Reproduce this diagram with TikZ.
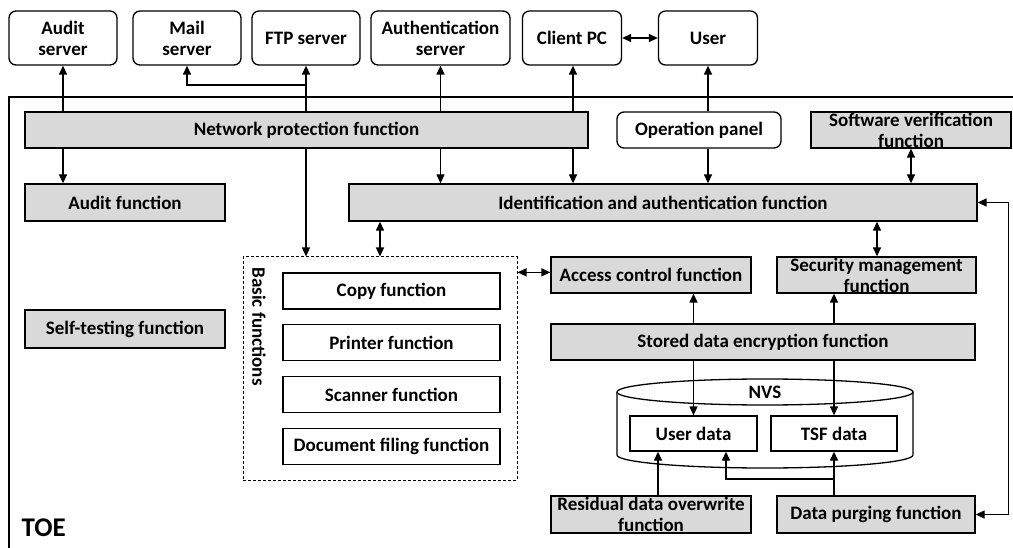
\documentclass[tikz,border=0pt]{standalone}
\usepackage{fontspec}
\setmainfont{Carlito}
\usetikzlibrary{arrows.meta}
\definecolor{fngray}{HTML}{D9D9D9}
\begin{document}
\begin{tikzpicture}[x=1pt, y=1pt, line width=1.3pt,
    >={Triangle[length=9pt, width=8pt]},
    every node/.style={font=\fontsize{19}{21}\selectfont\bfseries,
      align=center, inner sep=0pt},
    server/.style={draw, rounded corners=7pt, fill=white, minimum height=54pt},
    func/.style={draw, fill=fngray, minimum height=36pt},
    basicfn/.style={draw, fill=white, minimum width=217pt, minimum height=36pt}]
  \useasboundingbox (0, -548) rectangle (1013, 0);
  \draw (1013, -97) -- (9, -97) -- (9, -548);
  \node[anchor=west, font=\fontsize{27}{30}\selectfont\bfseries] (toe)
    at (21, -528) {TOE};

  \node[server, minimum width=108pt] (auditsrv) at (63, -38) {Audit\\server};
  \node[server, minimum width=108pt] (mailsrv) at (187, -38) {Mail\\server};
  \node[server, minimum width=108pt] (ftpsrv) at (306, -38) {FTP server};
  \node[server, minimum width=139pt] (authsrv) at (440.5, -38)
    {Authentication\\server};
  \node[server, minimum width=99pt] (clientpc) at (572, -38) {Client PC};
  \node[server, minimum width=99pt] (user) at (708, -38) {User};

  \node[func, minimum width=563pt] (netprot) at (306.5, -130)
    {Network protection function};
  \node[server, minimum width=164pt, minimum height=36pt] (oppanel)
    at (699, -130) {Operation panel};
  \node[func, minimum width=200pt] (swverify) at (911, -130)
    {Software verification\\function};
  \node[func, minimum width=200pt, minimum height=37pt] (auditfn)
    at (125, -202.5) {Audit function};
  \node[func, minimum width=628pt, minimum height=37pt] (ident)
    at (663, -202.5) {Identification and authentication function};
  \node[func, minimum width=200pt, minimum height=38pt] (selftest)
    at (125, -329) {Self-testing function};

  \node[draw, densely dashed, line width=1pt, minimum width=274pt,
    minimum height=223pt] (basic) at (380, -368.5) {};
  \node[rotate=-90, anchor=west] (basiclbl) at (259, -267) {Basic functions};
  \node[basicfn] (copyfn) at (391.5, -291) {Copy function};
  \node[basicfn] (printfn) at (391.5, -342.5) {Printer function};
  \node[basicfn] (scanfn) at (391.5, -394.5) {Scanner function};
  \node[basicfn] (docfn) at (391.5, -446.5) {Document filing function};

  \node[func, minimum width=200pt] (access) at (651, -275)
    {Access control function};
  \node[func, minimum width=199pt] (secmgmt) at (876.5, -275)
    {Security management\\function};
  \node[func, minimum width=424pt] (encrypt) at (763, -342)
    {Stored data encryption function};

  \draw[fill=white] (617, -392) -- (617, -455)
    arc[start angle=180, end angle=360, x radius=148, y radius=13]
    -- (913, -392);
  \draw (765, -392) ellipse [x radius=148, y radius=13];
  \node (nvs) at (765, -392) {NVS};
  \node[draw, fill=white, minimum width=127pt, minimum height=35pt] (userdata)
    at (693.5, -433.5) {User data};
  \node[draw, fill=white, minimum width=126pt, minimum height=35pt] (tsfdata)
    at (834, -433.5) {TSF data};

  \node[func, minimum width=200pt, minimum height=37pt] (residual)
    at (651, -514.5) {Residual data overwrite\\function};
  \node[func, minimum width=198pt, minimum height=37pt] (purge)
    at (876, -514.5) {Data purging function};

  \coordinate (mailjoin) at (306, -85);
  \coordinate (purgejoin) at (834, -479);

  \draw[->] (auditsrv.south |- netprot.north) -- (auditsrv.south);
  \draw[->] (auditsrv.south |- netprot.south) -- (auditsrv.south |- auditfn.north);
  \draw[->] (ftpsrv.south |- netprot.north) -- (ftpsrv.south);
  \draw[->] (mailjoin) -| (mailsrv.south);
  \draw[->] (ftpsrv.south |- netprot.south) -- (ftpsrv.south |- basic.north);
  \draw[->] (authsrv.south |- netprot.north) -- (authsrv.south);
  \draw[->] (authsrv.south |- netprot.south) -- (authsrv.south |- ident.north);
  \draw[->] ([xshift=1pt]clientpc.south |- netprot.north) -- ([xshift=1pt]clientpc.south);
  \draw[->] ([xshift=1pt]clientpc.south |- netprot.south)
    -- ([xshift=1pt]clientpc.south |- ident.north);
  \draw[<->] (clientpc) -- (user);
  \draw[->] (user.south |- oppanel.north) -- (user.south);
  \draw[->] (user.south |- oppanel.south) -- (user.south |- ident.north);
  \draw[<->] (swverify.south) -- (swverify.south |- ident.north);
  \draw[<->] (ident.east) -| ([xshift=33pt]purge.east) -- (purge.east);

  \draw[<->] (basic.north |- ident.south) -- (basic.north);
  \draw[<->] ([xshift=0.5pt]secmgmt.north |- ident.south) -- ([xshift=0.5pt]secmgmt.north);
  \draw[<->] (basic.east |- copyfn.north) -- (access.west |- copyfn.north);

  \draw[->] (userdata.north |- encrypt.north) -- (userdata.north |- access.south);
  \draw[->] (tsfdata.north |- encrypt.north) -- (tsfdata.north |- secmgmt.south);
  \draw[->] (userdata.north |- encrypt.south) -- (userdata.north);
  \draw[->] (tsfdata.north |- encrypt.south) -- (tsfdata.north);

  \draw[->] ([xshift=-35.5pt]userdata.south |- residual.north)
    -- ([xshift=-35.5pt]userdata.south);
  \draw[->] (tsfdata.south |- purge.north) -- (tsfdata.south);
  \draw[->] (purgejoin) -| ([xshift=32.5pt]userdata.south);
\end{tikzpicture}
\end{document}
